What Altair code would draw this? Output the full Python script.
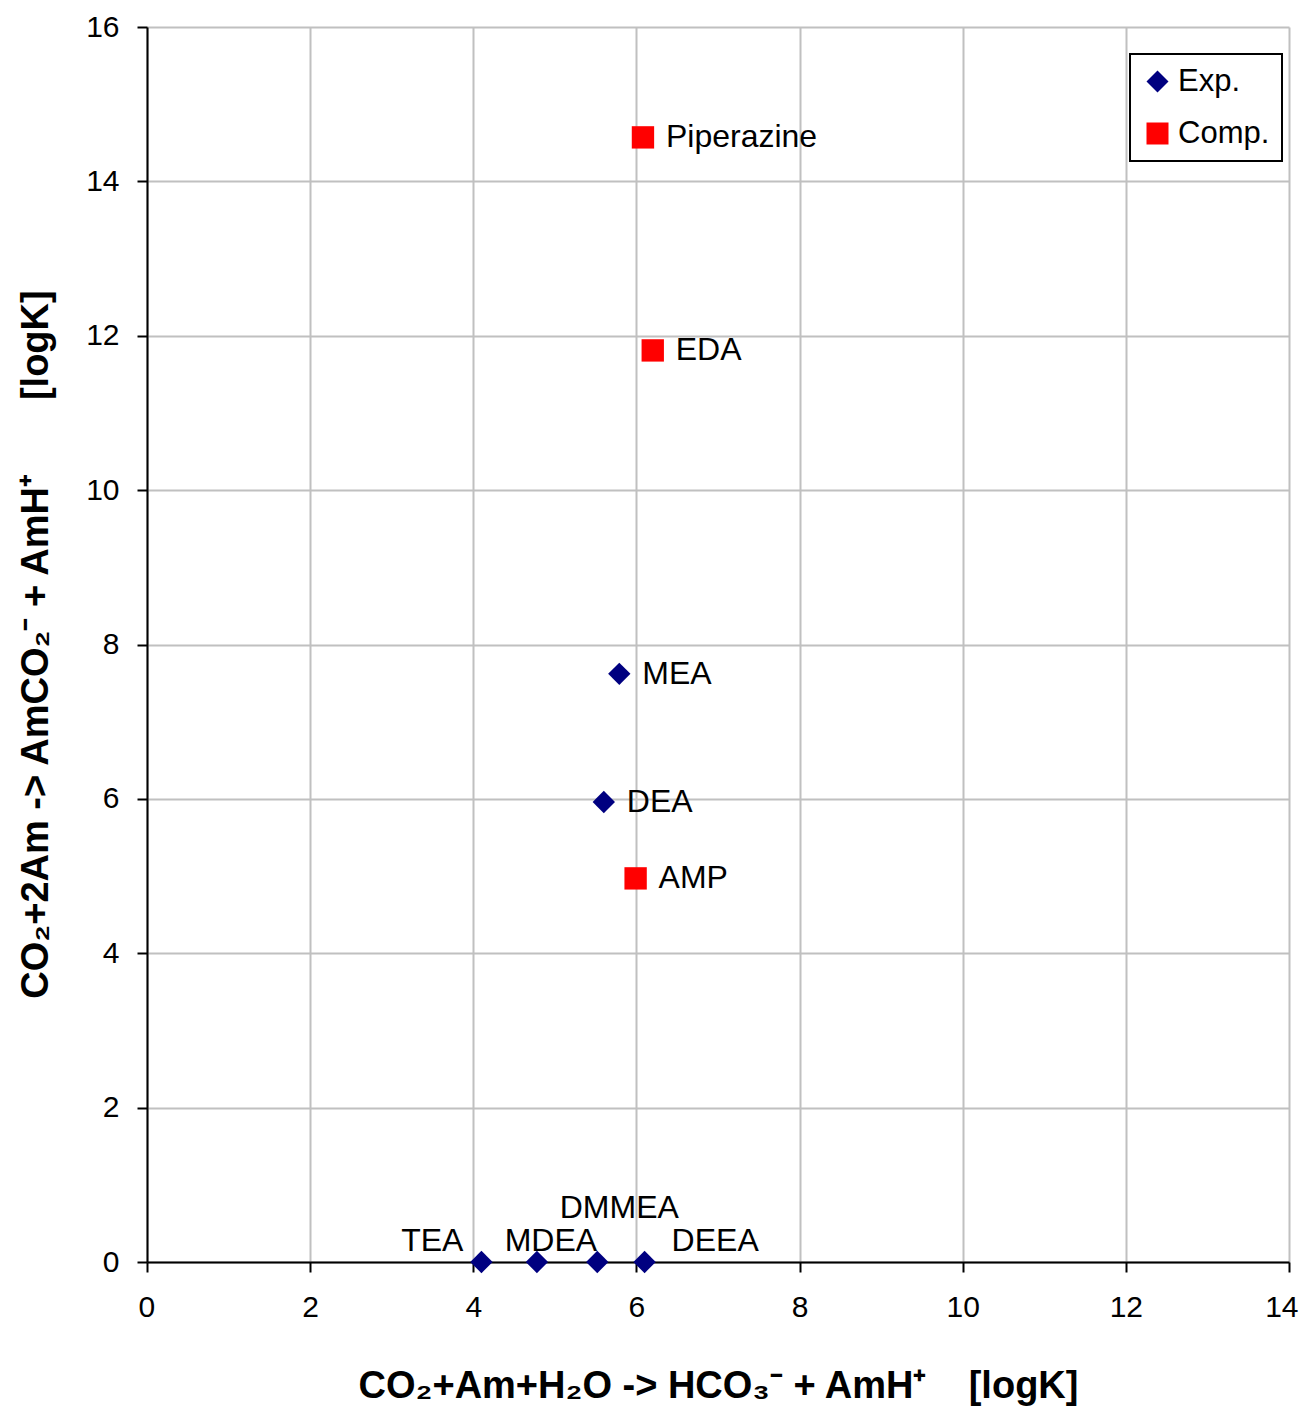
import altair as alt
import pandas as pd

names = ["Piperazine", "EDA", "AMP", "MEA", "DEA", "TEA", "MDEA", "DMMEA", "DEEA"]
x_vals = [6.08, 6.20, 5.99, 5.79, 5.60, 4.10, 4.78, 5.52, 6.10]
y_vals = [14.57, 11.81, 4.97, 7.62, 5.96, 0.0, 0.0, 0.0, 0.0]
series = ["Comp.", "Comp.", "Comp.", "Exp.", "Exp.", "Exp.", "Exp.", "Exp.", "Exp."]
series_order = ["Exp.", "Comp."]
x_ticks = [0, 2, 4, 6, 8, 10, 12, 14]
y_ticks = [0, 2, 4, 6, 8, 10, 12, 14, 16]

df = pd.DataFrame({"name": names, "x": x_vals, "y": y_vals, "series": series})

FONT = "Liberation Sans"
NB = "\u00a0"
x_title = "CO\u2082+Am+H\u2082O -> HCO\u2083\u207b + AmH\u207a" + NB * 4 + "[logK]"
y_title = "CO\u2082+2Am -> AmCO\u2082\u207b + AmH\u207a" + NB * 7 + "[logK]"

xs = alt.Scale(domain=[0, 14], nice=False, zero=False)
ys = alt.Scale(domain=[0, 16], nice=False, zero=False)

base = alt.Chart(df)

points = base.mark_point(filled=True, opacity=1, strokeWidth=0).encode(
    x=alt.X("x:Q", scale=xs, axis=alt.Axis(
        values=x_ticks, format="d", labelFlush=True, labelFlushOffset=9, title=x_title, titleY=135,
        titleBaseline="alphabetic", titleAnchor="middle", titleFontSize=38,
        titleFontWeight="bold", labelPadding=20, tickSize=10)),
    y=alt.Y("y:Q", scale=ys, axis=alt.Axis(
        values=y_ticks, format="d", labelFlush=False, title=y_title, titleAngle=-90,
        titleX=-100, titleY=617, titleAlign="center", titleBaseline="alphabetic",
        titleFontSize=38, titleFontWeight="bold", labelPadding=18, tickSize=10)),
    color=alt.Color("series:N", scale=alt.Scale(domain=series_order, range=["#000080", "#FF0000"]),
                    legend=alt.Legend(title=None, orient="none", legendX=983, legendY=27,
                                      strokeColor="black", fillColor="white", padding=12,
                                      labelFontSize=31, labelFont=FONT, symbolSize=484,
                                      rowPadding=20, labelOffset=5, symbolStrokeWidth=0)),
    shape=alt.Shape("series:N", scale=alt.Scale(domain=series_order, range=["diamond", "square"])),
    size=alt.value(500),
)

def label(sel, align, dx, dy):
    return base.transform_filter(
        alt.FieldOneOfPredicate(field="name", oneOf=sel)
    ).mark_text(align=align, baseline="middle", dx=dx, dy=dy, fontSize=32, font=FONT, color="black").encode(
        x=alt.X("x:Q", scale=xs), y=alt.Y("y:Q", scale=ys), text="name:N")

labels = [
    label(["Piperazine", "EDA", "AMP", "MEA", "DEA"], "left", 23, 0),
    label(["TEA"], "right", -18, -21),
    label(["MDEA"], "center", 14, -21),
    label(["DMMEA"], "center", 22, -54),
    label(["DEEA"], "left", 27, -21),
]

chart = alt.layer(points, *labels).properties(
    width=1142, height=1235,
    autosize=alt.AutoSizeParams(type="none"),
    padding={"left": 139, "top": 19, "right": 10, "bottom": 146},
).configure_view(stroke=None).configure_axis(
    gridColor="#C0C0C0", gridWidth=2, domainColor="black", domainWidth=2,
    tickColor="black", tickWidth=2, labelFont=FONT, titleFont=FONT,
    labelFontSize=30, labelColor="black", titleColor="black",
).configure_legend(strokeWidth=2)

chart.save("out.html", embed_options={"renderer": "svg", "actions": False})
